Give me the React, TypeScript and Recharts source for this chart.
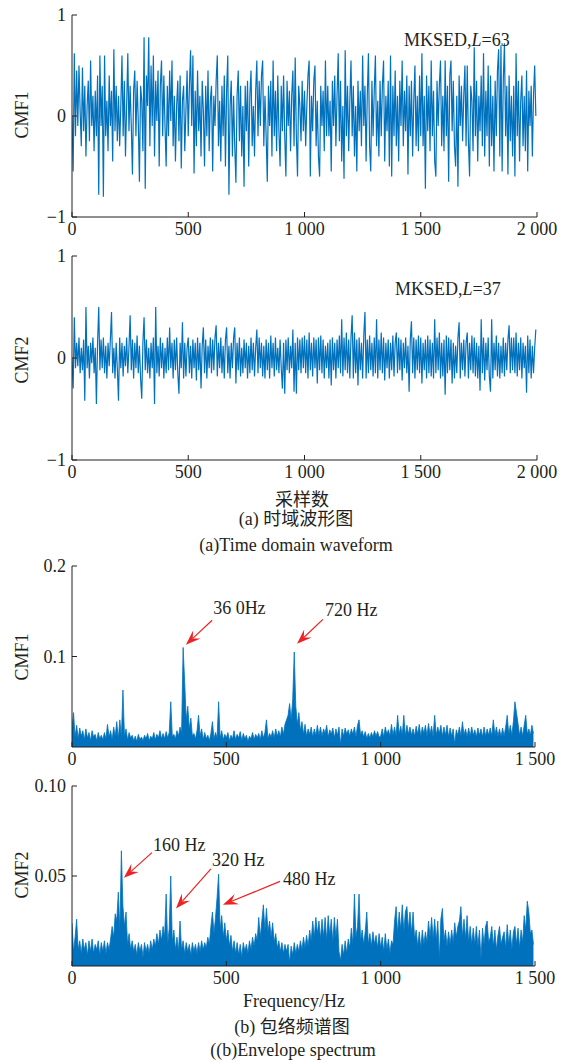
import React from 'react';
import { LineChart, Line, AreaChart, Area, XAxis, YAxis, ReferenceLine } from 'recharts';

// time-domain waveforms, one value every 5 samples (0..1995)
const cmf1Wave = [
  0.0, -0.55, 0.62, -0.2, 0.45, -0.1, 0.5, 0.05, -0.3, 0.48, -0.15, 0.3, -0.4, 0.1, 0.35, -0.25, 0.55, -0.1, 0.2, -0.35,
  0.25, -0.2, 0.4, -0.78, 0.6, -0.1, 0.3, -0.8, 0.6, -0.2, 0.15, -0.35, 0.4, -0.1, 0.25, -0.45, 0.66, -0.15, 0.3, -0.25,
  0.2, -0.3, 0.1, 0.6, -0.2, 0.35, -0.4, 0.1, 0.62, -0.15, 0.3, -0.1, -0.58, 0.25, 0.45, -0.2, 0.35, -0.05, -0.65, 0.3,
  0.15, -0.35, 0.78, -0.72, 0.4, 0.1, 0.78, -0.3, 0.5, -0.1, 0.6, -0.4, 0.35, -0.05, 0.45, -0.5, 0.3, 0.55, -0.2, 0.4,
  -0.1, -0.5, 0.3, -0.2, 0.45, -0.05, 0.55, -0.3, 0.2, -0.45, 0.1, 0.35, -0.25, 0.4, -0.52, 0.15, 0.3, -0.35, 0.05, 0.45,
  -0.2, 0.3, 0.65, -0.1, 0.6, -0.57, 0.25, -0.3, 0.45, -0.15, 0.2, -0.4, 0.35, 0.05, -0.5, 0.3, -0.2, 0.45, -0.35, 0.15,
  0.3, -0.55, 0.2, -0.1, 0.35, 0.6, -0.3, 0.15, -0.45, 0.3, -0.2, 0.4, -0.5, 0.25, 0.6, -0.78, 0.1, 0.35, -0.4, 0.2,
  -0.3, -0.66, 0.2, 0.45, -0.25, 0.3, -0.4, 0.1, -0.7, 0.3, -0.15, 0.35, -0.5, 0.2, 0.45, -0.3, 0.1, -0.4, 0.25, 0.55,
  -0.2, 0.35, -0.1, 0.4, 0.55, -0.3, 0.2, -0.2, -0.65, 0.3, -0.1, 0.35, -0.4, 0.55, -0.2, 0.25, -0.35, 0.4, -0.15, -0.5,
  0.3, -0.15, 0.4, -0.2, -0.6, 0.35, -0.1, 0.25, -0.35, 0.2, 0.45, -0.3, 0.58, -0.2, -0.6, 0.3, 0.1, -0.25, 0.35, -0.15,
  0.25, -0.3, 0.1, 0.4, 0.55, -0.6, 0.2, -0.15, 0.35, 0.5, -0.3, 0.15, -0.4, -0.6, 0.3, -0.1, 0.25, -0.35, 0.55, -0.2,
  0.3, -0.2, 0.15, -0.55, 0.35, -0.1, 0.4, -0.3, 0.2, 0.62, -0.25, 0.35, -0.45, 0.1, -0.62, 0.65, -0.2, 0.3, -0.35, 0.15,
  0.55, -0.2, 0.3, -0.4, 0.1, -0.55, 0.35, -0.15, 0.25, -0.3, 0.6, -0.1, 0.3, -0.45, 0.2, 0.62, -0.3, -0.55, 0.35, -0.2,
  0.25, 0.6, -0.3, 0.15, -0.4, 0.35, -0.2, 0.3, 0.55, -0.45, 0.2, -0.15, 0.35, -0.5, 0.6, -0.6, 0.3, -0.2, 0.45, -0.3,
  0.2, -0.45, 0.35, -0.1, 0.55, -0.3, 0.25, -0.15, 0.4, -0.58, 0.3, -0.2, 0.35, -0.4, 0.15, 0.5, -0.3, 0.2, -0.35, 0.4,
  -0.2, 0.62, -0.3, 0.2, -0.72, 0.4, -0.15, 0.3, -0.35, 0.55, -0.2, 0.25, -0.45, -0.6, 0.35, -0.1, 0.3, 0.55, -0.3, 0.2,
  -0.35, 0.55, -0.2, 0.3, -0.65, 0.4, 0.55, -0.15, 0.35, -0.3, -0.5, 0.2, -0.7, 0.4, -0.1, 0.3, -0.25, 0.2, 0.5, -0.3,
  0.5, -0.25, -0.6, 0.3, 0.15, -0.35, 0.68, -0.2, 0.35, -0.45, 0.2, -0.15, 0.4, -0.3, 0.62, -0.4, 0.25, -0.2, 0.5, -0.5,
  0.4, -0.3, 0.2, -0.55, 0.35, -0.2, 0.45, 0.66, -0.4, 0.7, -0.55, 0.35, 0.72, -0.2, 0.3, -0.58, 0.4, -0.25, 0.2, -0.4,
  0.3, -0.6, 0.62, -0.2, 0.35, -0.45, 0.15, 0.4, -0.3, 0.2, -0.35, 0.45, -0.55, 0.25, -0.1, 0.3, -0.4, 0.2, 0.5, 0.0,
];

const cmf2Wave = [
  0.0, -0.3, 0.4, -0.1, 0.15, -0.08, 0.2, -0.15, 0.1, -0.12, 0.18, -0.42, 0.5, -0.1, 0.12, -0.2, 0.15, -0.05, 0.2, -0.15,
  0.1, -0.45, 0.15, 0.5, -0.12, 0.18, -0.1, 0.2, -0.15, 0.12, -0.2, 0.15, -0.08, 0.18, 0.45, -0.15, 0.1, -0.2, 0.15, -0.1,
  -0.42, 0.2, -0.1, 0.15, -0.18, 0.12, -0.08, 0.2, -0.15, 0.1, 0.42, -0.12, 0.18, -0.2, 0.15, -0.1, 0.22, -0.15, 0.12, -0.2,
  -0.4, 0.15, 0.4, -0.12, 0.18, -0.15, 0.1, -0.2, 0.15, -0.1, 0.2, -0.45, 0.5, -0.15, 0.12, -0.18, 0.2, -0.1, 0.15, -0.2,
  0.1, -0.15, 0.2, -0.12, 0.3, -0.1, 0.15, -0.2, 0.18, -0.12, 0.2, -0.15, -0.35, 0.15, -0.1, 0.35, -0.2, 0.15, -0.18, 0.1,
  0.2, -0.15, 0.12, -0.2, 0.18, -0.1, 0.15, -0.22, 0.2, -0.12, 0.15, -0.3, 0.12, 0.3, -0.15, 0.18, -0.2, 0.12, -0.1, 0.2,
  -0.15, 0.18, -0.12, 0.2, 0.32, -0.18, 0.15, -0.1, 0.2, -0.15, 0.12, -0.2, 0.18, 0.3, -0.15, 0.12, -0.2, 0.15, -0.1, 0.2,
  0.3, -0.25, 0.15, -0.12, 0.2, -0.18, 0.1, -0.15, 0.18, -0.1, 0.15, -0.2, 0.12, -0.15, 0.2, -0.12, 0.15, -0.18, 0.1, 0.28,
  -0.15, 0.2, -0.1, 0.15, -0.18, 0.12, -0.2, 0.18, -0.12, 0.15, -0.2, 0.22, -0.1, 0.15, -0.18, 0.2, -0.12, 0.1, -0.15, 0.18,
  -0.1, -0.3, 0.15, -0.35, 0.18, -0.12, 0.2, -0.15, 0.12, -0.1, 0.28, -0.33, 0.15, -0.35, 0.2, -0.12, 0.18, -0.15, 0.2, -0.1,
  0.22, -0.15, 0.18, -0.2, 0.25, -0.12, 0.15, -0.18, 0.2, -0.1, 0.18, -0.25, 0.2, -0.12, 0.22, -0.15, 0.18, -0.2, 0.12, -0.1,
  0.15, -0.2, 0.18, -0.27, 0.2, -0.12, 0.15, -0.2, 0.18, -0.1, 0.22, -0.15, 0.38, -0.18, 0.2, -0.12, 0.25, -0.15, 0.18, -0.2,
  0.2, 0.42, -0.2, 0.25, -0.15, 0.18, -0.27, 0.2, -0.12, 0.15, -0.2, 0.22, 0.45, -0.2, 0.18, -0.15, 0.22, -0.12, 0.15, -0.18,
  0.2, -0.15, 0.38, -0.2, 0.18, -0.12, 0.25, -0.15, 0.2, -0.22, 0.15, -0.1, 0.18, -0.2, 0.15, -0.12, 0.22, -0.18, 0.15, 0.25,
  -0.15, 0.2, -0.12, 0.18, -0.22, 0.15, -0.1, 0.2, -0.15, 0.12, -0.33, 0.18, 0.36, -0.15, 0.2, -0.2, 0.18, -0.12, 0.22, -0.15,
  0.2, -0.25, 0.15, -0.12, 0.18, -0.2, 0.22, -0.15, 0.18, -0.18, 0.15, -0.2, 0.38, -0.15, 0.2, -0.12, 0.25, -0.2, 0.15, -0.18,
  0.18, -0.36, 0.22, -0.15, 0.2, -0.12, 0.18, -0.25, 0.15, -0.2, 0.12, -0.15, 0.2, 0.35, -0.2, 0.15, -0.12, 0.18, -0.18, 0.15,
  0.25, -0.2, 0.15, -0.12, 0.22, -0.15, 0.2, -0.18, 0.15, -0.2, 0.12, -0.32, 0.38, -0.15, 0.2, -0.22, 0.15, -0.12, 0.2, -0.18,
  -0.33, 0.38, -0.2, 0.15, -0.12, 0.22, -0.18, 0.15, -0.2, 0.12, -0.15, 0.2, -0.18, 0.15, -0.12, 0.18, 0.32, -0.15, 0.2, -0.12,
  0.2, -0.15, 0.25, -0.18, 0.15, -0.12, 0.2, -0.2, 0.15, -0.1, 0.12, -0.34, 0.22, -0.15, 0.18, -0.2, 0.12, -0.15, 0.1, 0.28,
];

// envelope spectra, one value every 5 Hz (0..1495)
const cmf1Spec = [
  0.02, 0.038, 0.011, 0.024, 0.009, 0.021, 0.012, 0.018, 0.008, 0.02, 0.01, 0.016, 0.007, 0.018, 0.011, 0.014, 0.007, 0.016, 0.009, 0.013,
  0.008, 0.016, 0.009, 0.025, 0.011, 0.018, 0.008, 0.022, 0.012, 0.028, 0.009, 0.03, 0.01, 0.063, 0.012, 0.02, 0.008, 0.016, 0.01, 0.013,
  0.007, 0.012, 0.006, 0.014, 0.008, 0.011, 0.007, 0.013, 0.009, 0.015, 0.007, 0.012, 0.009, 0.016, 0.008, 0.014, 0.01, 0.018, 0.009, 0.015,
  0.009, 0.017, 0.01, 0.016, 0.05, 0.011, 0.014, 0.009, 0.018, 0.012, 0.022, 0.015, 0.11, 0.072, 0.03, 0.045, 0.02, 0.032, 0.012, 0.015,
  0.009, 0.018, 0.035, 0.012, 0.02, 0.008, 0.016, 0.009, 0.013, 0.007, 0.015, 0.028, 0.009, 0.016, 0.01, 0.05, 0.009, 0.018, 0.008, 0.014,
  0.01, 0.016, 0.007, 0.013, 0.009, 0.018, 0.008, 0.014, 0.01, 0.017, 0.007, 0.015, 0.009, 0.013, 0.006, 0.012, 0.009, 0.016, 0.008, 0.014,
  0.01, 0.015, 0.008, 0.018, 0.01, 0.016, 0.03, 0.009, 0.015, 0.011, 0.018, 0.01, 0.02, 0.012, 0.018, 0.011, 0.022, 0.014, 0.025, 0.03,
  0.035, 0.048, 0.03, 0.052, 0.105, 0.045, 0.025, 0.038, 0.018, 0.028, 0.014, 0.025, 0.012, 0.02, 0.014, 0.022, 0.011, 0.02, 0.013, 0.024,
  0.013, 0.022, 0.012, 0.02, 0.015, 0.024, 0.011, 0.019, 0.014, 0.021, 0.01, 0.02, 0.013, 0.022, 0.003, 0.02, 0.012, 0.021, 0.014, 0.019,
  0.012, 0.02, 0.014, 0.022, 0.011, 0.024, 0.03, 0.013, 0.018, 0.011, 0.017, 0.009, 0.015, 0.01, 0.016, 0.011, 0.018, 0.012, 0.017, 0.011,
  0.012, 0.02, 0.011, 0.022, 0.014, 0.019, 0.012, 0.025, 0.013, 0.022, 0.012, 0.035, 0.014, 0.023, 0.013, 0.035, 0.012, 0.024, 0.014, 0.022,
  0.013, 0.02, 0.012, 0.023, 0.014, 0.025, 0.012, 0.022, 0.015, 0.024, 0.012, 0.026, 0.014, 0.023, 0.011, 0.035, 0.013, 0.022, 0.015, 0.024,
  0.012, 0.022, 0.013, 0.024, 0.011, 0.021, 0.012, 0.02, 0.003, 0.019, 0.013, 0.022, 0.012, 0.028, 0.013, 0.02, 0.011, 0.021, 0.012, 0.022,
  0.013, 0.019, 0.011, 0.021, 0.013, 0.02, 0.011, 0.022, 0.012, 0.02, 0.013, 0.021, 0.012, 0.03, 0.013, 0.022, 0.012, 0.02, 0.011, 0.021,
  0.012, 0.022, 0.035, 0.014, 0.024, 0.013, 0.028, 0.05, 0.038, 0.026, 0.013, 0.022, 0.012, 0.024, 0.035, 0.014, 0.02, 0.013, 0.024, 0.015,
];

const cmf2Spec = [
  0.024, 0.008, 0.016, 0.026, 0.009, 0.014, 0.007, 0.015, 0.009, 0.013, 0.006, 0.014, 0.008, 0.015, 0.007, 0.012, 0.009, 0.014, 0.006, 0.013,
  0.008, 0.014, 0.007, 0.013, 0.009, 0.015, 0.022, 0.016, 0.029, 0.025, 0.041, 0.02, 0.064, 0.033, 0.022, 0.03, 0.012, 0.018, 0.009, 0.014,
  0.008, 0.012, 0.006, 0.013, 0.008, 0.012, 0.005, 0.013, 0.008, 0.012, 0.007, 0.014, 0.009, 0.015, 0.011, 0.018, 0.012, 0.02, 0.014, 0.022,
  0.016, 0.04, 0.012, 0.021, 0.05, 0.013, 0.02, 0.009, 0.016, 0.008, 0.025, 0.009, 0.014, 0.007, 0.013, 0.008, 0.012, 0.006, 0.013, 0.008,
  0.012, 0.007, 0.013, 0.008, 0.014, 0.009, 0.013, 0.01, 0.016, 0.012, 0.022, 0.03, 0.018, 0.027, 0.038, 0.051, 0.02, 0.028, 0.016, 0.024,
  0.014, 0.02, 0.011, 0.017, 0.008, 0.014, 0.007, 0.013, 0.006, 0.012, 0.005, 0.013, 0.008, 0.012, 0.007, 0.014, 0.009, 0.016, 0.011, 0.018,
  0.014, 0.027, 0.016, 0.025, 0.034, 0.02, 0.032, 0.019, 0.025, 0.016, 0.024, 0.013, 0.018, 0.01, 0.014, 0.008, 0.013, 0.007, 0.012, 0.008,
  0.012, 0.002, 0.011, 0.006, 0.013, 0.007, 0.012, 0.008, 0.014, 0.009, 0.016, 0.01, 0.017, 0.011, 0.02, 0.014, 0.025, 0.016, 0.027, 0.018,
  0.025, 0.015, 0.026, 0.016, 0.027, 0.014, 0.028, 0.017, 0.026, 0.013, 0.027, 0.016, 0.026, 0.008, 0.003, 0.012, 0.006, 0.014, 0.007, 0.015,
  0.01, 0.021, 0.012, 0.04, 0.016, 0.022, 0.04, 0.014, 0.02, 0.012, 0.019, 0.03, 0.012, 0.018, 0.011, 0.019, 0.012, 0.017, 0.01, 0.018,
  0.01, 0.016, 0.008, 0.018, 0.009, 0.015, 0.007, 0.014, 0.012, 0.025, 0.033, 0.018, 0.03, 0.02, 0.034, 0.019, 0.03, 0.033, 0.02, 0.03,
  0.018, 0.03, 0.015, 0.02, 0.011, 0.019, 0.01, 0.02, 0.012, 0.019, 0.013, 0.025, 0.016, 0.027, 0.015, 0.026, 0.014, 0.025, 0.004, 0.026,
  0.032, 0.014, 0.02, 0.011, 0.019, 0.012, 0.02, 0.013, 0.024, 0.016, 0.022, 0.025, 0.033, 0.016, 0.026, 0.015, 0.028, 0.013, 0.022, 0.012,
  0.021, 0.012, 0.022, 0.011, 0.02, 0.004, 0.021, 0.012, 0.022, 0.025, 0.013, 0.016, 0.022, 0.011, 0.02, 0.009, 0.017, 0.022, 0.012, 0.016,
  0.019, 0.01, 0.023, 0.012, 0.02, 0.009, 0.019, 0.022, 0.012, 0.021, 0.01, 0.02, 0.013, 0.028, 0.02, 0.036, 0.03, 0.018, 0.02, 0.012,
];

const waveTicksX = [0, 500, 1000, 1500, 2000];
const waveTicksY = [-1, 0, 1];
const specTicksX = [0, 500, 1000, 1500];
const spec1TicksY = [0.1, 0.2];
const spec2TicksY = [0.05, 0.1];

// arrow annotations: tail -> head in data units
const spec1Arrows = [
  { text: '36 0Hz', from: [454, 0.14], to: [369, 0.113], dx: 1, dy: -12 },
  { text: '720 Hz', from: [813, 0.141], to: [729, 0.114], dx: 2, dy: -9 },
];
const spec2Arrows = [
  { text: '160 Hz', from: [259, 0.063], to: [168, 0.049], dx: 1, dy: -8 },
  { text: '320 Hz', from: [450, 0.054], to: [337, 0.032], dx: 1, dy: -9 },
  { text: '480 Hz', from: [674, 0.047], to: [489, 0.034], dx: 3, dy: -2 },
];

const wave1Data = cmf1Wave.map((v, i) => ({ s: i * 5, v }));
const wave2Data = cmf2Wave.map((v, i) => ({ s: i * 5, v }));
const spec1Data = cmf1Spec.map((v, i) => ({ f: i * 5, v }));
const spec2Data = cmf2Spec.map((v, i) => ({ f: i * 5, v }));

const BLUE = '#0072BD';
const RED = '#EE2222';
const INK = '#231F20';
const SERIF = '"Liberation Serif", "Times New Roman", serif';
const CJK = '"Liberation Serif", "Noto Sans CJK SC", sans-serif';

const tickStyle = { fill: INK, fontSize: 18, fontFamily: SERIF };

const fmtX = (v: number) => (v >= 1000 ? `${Math.floor(v / 1000)} ${String(v % 1000).padStart(3, '0')}` : String(v));
const fmtWaveY = (v: number) => (v < 0 ? `\u2212${Math.abs(v)}` : String(v));

function arrowShape(text: string, dx: number, dy: number) {
  return (p: any) => {
    const { x1, y1, x2, y2 } = p;
    const len = Math.hypot(x2 - x1, y2 - y1) || 1;
    const ux = (x2 - x1) / len;
    const uy = (y2 - y1) / len;
    const nx = -uy;
    const ny = ux;
    const L = 15;
    const W = 5.5;
    const bx = x2 - ux * L;
    const by = y2 - uy * L;
    const mx = x2 - ux * L * 0.62;
    const my = y2 - uy * L * 0.62;
    return (
      <g>
        <line x1={x1} y1={y1} x2={mx} y2={my} stroke={RED} strokeWidth={1.2} />
        <polygon
          points={`${x2},${y2} ${bx + nx * W},${by + ny * W} ${mx},${my} ${bx - nx * W},${by - ny * W}`}
          fill={RED}
        />
        <text x={x1 + dx} y={y1 + dy} fill={INK} fontSize={18} fontFamily={SERIF} dominantBaseline="central">
          {text}
        </text>
      </g>
    );
  };
}

function Label({ x, y, children, rotate, font = SERIF, anchor = 'center' }: any) {
  const tx = anchor === 'center' ? '-50%' : '0';
  return (
    <div
      style={{
        position: 'absolute',
        left: x,
        top: y,
        transform: `translate(${tx}, -50%)${rotate ? ' rotate(-90deg)' : ''}`,
        whiteSpace: 'nowrap',
        fontFamily: font,
        fontSize: 18,
        color: INK,
        lineHeight: 1,
      }}
    >
      {children}
    </div>
  );
}

function WavePanel({ top, data, plotTop, plotBottom }: any) {
  const h = 245;
  return (
    <div style={{ position: 'absolute', left: 0, top }}>
      <LineChart width={576} height={h} data={data} margin={{ top: plotTop, right: 39, bottom: 0, left: 0 }}>
        <XAxis
          dataKey="s"
          type="number"
          domain={[0, 2000]}
          ticks={waveTicksX}
          tickFormatter={fmtX}
          height={h - plotBottom}
          tickSize={-5}
          tickMargin={10}
          tick={tickStyle}
          stroke={INK}
          interval={0}
          allowDataOverflow
        />
        <YAxis
          type="number"
          domain={[-1, 1]}
          ticks={waveTicksY}
          tickFormatter={fmtWaveY}
          width={72}
          tickSize={-5}
          tickMargin={11}
          tick={tickStyle}
          stroke={INK}
          interval={0}
          allowDataOverflow
        />
        <Line dataKey="v" stroke={BLUE} strokeWidth={1.2} dot={false} isAnimationActive={false} />
      </LineChart>
    </div>
  );
}

function SpecPanel({ top, data, plotBottom, yMax, yTicks, fmtY, arrows }: any) {
  const h = 225;
  return (
    <div style={{ position: 'absolute', left: 0, top }}>
      <AreaChart width={576} height={h} data={data} margin={{ top: 16, right: 41, bottom: 0, left: 0 }}>
        <XAxis
          dataKey="f"
          type="number"
          domain={[0, 1500]}
          ticks={specTicksX}
          tickFormatter={fmtX}
          height={h - plotBottom}
          tickSize={-5}
          tickMargin={10}
          tick={tickStyle}
          stroke={INK}
          interval={0}
          allowDataOverflow
        />
        <YAxis
          type="number"
          domain={[0, yMax]}
          ticks={yTicks}
          tickFormatter={fmtY}
          width={72}
          tickSize={-5}
          tickMargin={11}
          tick={tickStyle}
          stroke={INK}
          interval={0}
          allowDataOverflow
        />
        <Area
          dataKey="v"
          type="linear"
          stroke={BLUE}
          strokeWidth={0.8}
          fill={BLUE}
          fillOpacity={1}
          baseValue={0}
          isAnimationActive={false}
        />
        {arrows.map((a: any) => (
          <ReferenceLine
            key={a.text}
            segment={[{ x: a.from[0], y: a.from[1] }, { x: a.to[0], y: a.to[1] }]}
            ifOverflow="visible"
            shape={arrowShape(a.text, a.dx, a.dy)}
          />
        ))}
      </AreaChart>
    </div>
  );
}

export default function App() {
  return (
    <div style={{ position: 'absolute', left: 0, top: 0, width: 576, height: 1060, background: '#fff', overflow: 'hidden' }}>
      <WavePanel top={0} data={wave1Data} plotTop={15} plotBottom={217} />
      <WavePanel top={240} data={wave2Data} plotTop={16} plotBottom={220} />
      <SpecPanel top={550} data={spec1Data} plotBottom={197} yMax={0.2} yTicks={spec1TicksY} fmtY={(v: number) => v.toFixed(1)} arrows={spec1Arrows} />
      <SpecPanel top={770} data={spec2Data} plotBottom={196} yMax={0.1} yTicks={spec2TicksY} fmtY={(v: number) => v.toFixed(2)} arrows={spec2Arrows} />

      <Label x={22} y={115} rotate>CMF1</Label>
      <Label x={22} y={360} rotate>CMF2</Label>
      <Label x={22} y={657} rotate>CMF1</Label>
      <Label x={22} y={875} rotate>CMF2</Label>

      <Label x={404} y={40} anchor="left">MKSED,<i>L</i>=63</Label>
      <Label x={395} y={289} anchor="left">MKSED,<i>L</i>=37</Label>

      <Label x={302} y={500} font={CJK}>采样数</Label>
      <Label x={296} y={519} font={CJK}>(a) 时域波形图</Label>
      <Label x={296} y={545}>(a)Time domain waveform</Label>

      <Label x={294} y={1001}>Frequency/Hz</Label>
      <Label x={292} y={1027} font={CJK}>(b) 包络频谱图</Label>
      <Label x={293} y={1050}>((b)Envelope spectrum</Label>
    </div>
  );
}
